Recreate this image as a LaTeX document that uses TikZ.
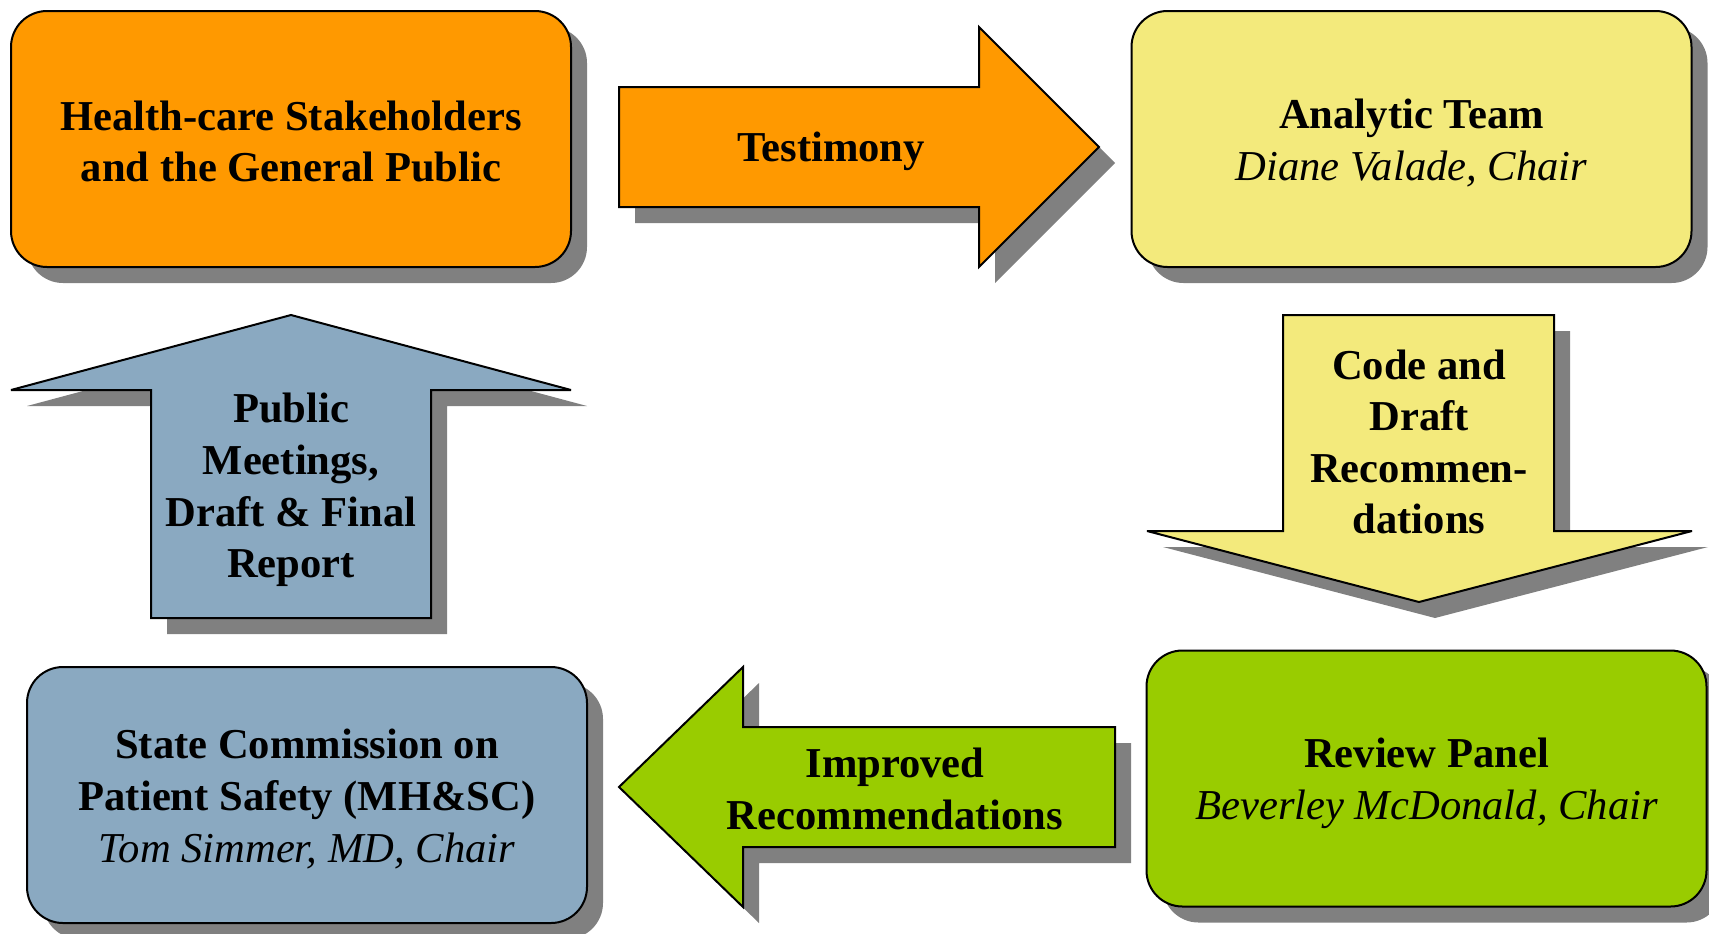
\documentclass[tikz,border=0pt]{standalone}
\usepackage{fontspec}
\setmainfont{Liberation Serif}
\usetikzlibrary{shadows}
\definecolor{cOrange}{RGB}{255,153,0}
\definecolor{cYellow}{RGB}{243,234,124}
\definecolor{cBlue}{RGB}{138,169,193}
\definecolor{cGreen}{RGB}{153,204,0}
\definecolor{cShadow}{RGB}{128,128,128}
\tikzset{
  sh/.style={drop shadow={shadow xshift=8pt,shadow yshift=-8pt,fill=cShadow,opacity=1}},
  txt/.style={font=\fontsize{21.3pt}{25.8pt}\selectfont\bfseries, align=center, inner sep=0pt},
  rbox/.style={draw=black, line width=1pt, rounded corners=18pt,
     minimum width=280pt, minimum height=128pt, inner sep=0pt, sh},
  blk/.style={draw=black, line width=1pt, line join=miter, miter limit=3, sh}
}
\newcommand{\chairline}[1]{{\mdseries\itshape #1}}
\begin{document}
\begin{tikzpicture}[x=0.5pt,y=-0.5pt]
\useasboundingbox (0,0) rectangle (1709,933);
% boxes
\node[rbox, fill=cOrange] (hs) at (291,139) {};
\node[rbox, fill=cYellow] (at) at (1411.5,139) {};
\node[rbox, fill=cBlue] (sc) at (307,795) {};
\node[rbox, fill=cGreen] (rp) at (1426.5,778.5) {};
\node[txt] (hs-t) at ([yshift=-1.2pt]hs.center) {Health-care Stakeholders\\and the General Public};
\node[txt] (at-t) at ([yshift=-2pt]at.center) {Analytic Team\\\chairline{Diane Valade, Chair}};
\node[txt] (sc-t) at ([yshift=-2pt]sc.center) {State Commission on\\Patient Safety (MH\&SC)\\\chairline{Tom Simmer, MD, Chair}};
\node[txt] (rp-t) at ([yshift=-2.5pt]rp.center) {Review Panel\\\chairline{Beverley McDonald, Chair}};
% block arrows
\draw[blk, fill=cOrange] (619,87) -- (979,87) -- (979,27) -- (1099,147) -- (979,267) -- (979,207) -- (619,207) -- cycle;
\draw[blk, fill=cYellow] (1283,315) -- (1554,315) -- (1554,531) -- (1692,531) -- (1419,602) -- (1147,531) -- (1283,531) -- cycle;
\draw[blk, fill=cBlue] (151,618) -- (151,390) -- (11,390) -- (291,315) -- (571,390) -- (431,390) -- (431,618) -- cycle;
\draw[blk, fill=cGreen] (1115,727) -- (743,727) -- (743,667) -- (619,787) -- (743,907) -- (743,847) -- (1115,847) -- cycle;
% arrow labels
\node[txt] (t1) at (831,151) {Testimony};
\node[txt] (t2) at (1419,442) {Code and\\Draft\\Recommen-\\dations};
\node[txt] (t3) at (291,490) {Public\\Meetings,\\Draft \& Final\\Report};
\node[txt] (t4) at (895,789) {Improved\\Recommendations};
\end{tikzpicture}
\end{document}
